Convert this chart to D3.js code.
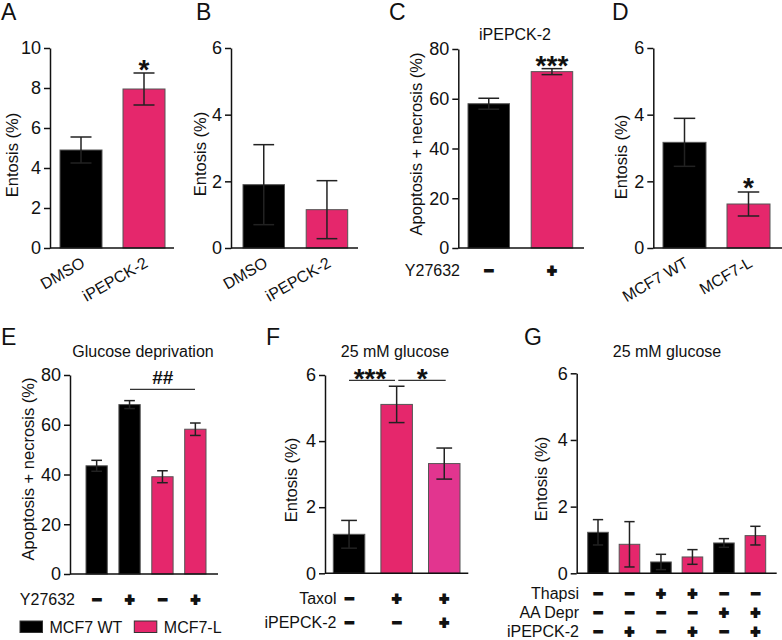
<!DOCTYPE html>
<html><head><meta charset="utf-8">
<script src="https://cdn.jsdelivr.net/npm/d3@7"></script>
<style>body{margin:0;background:#fff} text{font-family:"Liberation Sans",Arial,sans-serif;fill:#111}</style>
</head><body><svg id="c" width="782" height="640"></svg>
<script>
// ---------- DATA ----------
const aCategories = ["DMSO", "iPEPCK-2"];
const aValues = [4.9, 7.95];
const aErrors = [0.65, 0.8];
const aTicks = [0, 2, 4, 6, 8, 10];

const bCategories = ["DMSO", "iPEPCK-2"];
const bValues = [1.9, 1.15];
const bErrors = [1.2, 0.87];
const bTicks = [0, 2, 4, 6];

const cCategories = ["ctrl", "Y27632"];
const cValues = [58.0, 70.9];
const cErrors = [2.2, 1.2];
const cTicks = [0, 20, 40, 60, 80];
const cY27632 = ["−", "+"];

const dCategories = ["MCF7 WT", "MCF7-L"];
const dValues = [3.17, 1.32];
const dErrors = [0.72, 0.36];
const dTicks = [0, 2, 4, 6];

const eCategories = ["WT-", "WT+", "L-", "L+"];
const eValues = [43.5, 68.1, 39.1, 58.2];
const eErrors = [2.2, 1.6, 2.4, 2.5];
const eTicks = [0, 20, 40, 60, 80];
const eY27632 = ["−", "+", "−", "+"];
const eLegend = ["MCF7 WT", "MCF7-L"];

const fCategories = ["ctrl", "Taxol", "Taxol+iPEPCK-2"];
const fValues = [1.18, 5.11, 3.32];
const fErrors = [0.42, 0.55, 0.47];
const fTicks = [0, 2, 4, 6];
const fTaxol = ["−", "+", "+"];
const fIPEPCK = ["−", "−", "+"];

const gCategories = ["g1", "g2", "g3", "g4", "g5", "g6"];
const gValues = [1.23, 0.87, 0.34, 0.49, 0.91, 1.13];
const gErrors = [0.38, 0.68, 0.23, 0.22, 0.13, 0.28];
const gTicks = [0, 2, 4, 6];
const gThapsi = ["−", "−", "+", "+", "−", "−"];
const gAADepr = ["−", "−", "−", "−", "+", "+"];
const gIPEPCK = ["−", "+", "−", "+", "−", "+"];

// ---------- STYLE ----------
const BLACK = "#000", PINK = "#e5276c", MAGENTA = "#e2358f";
const svg = d3.select("#c");

function panel(cfg) {
  const g = svg.append("g");
  const y = d3.scaleLinear().domain([0, cfg.max]).range([cfg.y0, cfg.yTop]);
  const n = cfg.cats.length;
  const gap = n > 1 ? (cfg.R - cfg.L - n * cfg.w) / (n - 1) : 0;
  const x = d3.scaleBand().domain(cfg.cats).range([cfg.L, cfg.R])
    .paddingInner(gap / (cfg.w + gap)).paddingOuter(0);
  const bw = x.bandwidth();
  const data = cfg.cats.map((c, i) => ({ c, v: cfg.vals[i], e: cfg.errs[i], col: cfg.colors[i] }));
  // bars
  g.selectAll(".bar").data(data).join("rect")
    .attr("x", d => x(d.c)).attr("width", bw)
    .attr("y", d => y(d.v)).attr("height", d => y(0) - y(d.v))
    .attr("fill", d => d.col).attr("stroke", "#555").attr("stroke-width", 1);
  // error bars
  const cw = bw * 0.5;
  const eg = g.selectAll(".err").data(data).join("g").attr("stroke", "#222").attr("stroke-width", 1.5);
  eg.append("line").attr("x1", d => x(d.c) + bw / 2).attr("x2", d => x(d.c) + bw / 2)
    .attr("y1", d => y(d.v + d.e)).attr("y2", d => y(d.v - d.e));
  eg.append("line").attr("x1", d => x(d.c) + bw / 2 - cw / 2).attr("x2", d => x(d.c) + bw / 2 + cw / 2)
    .attr("y1", d => y(d.v + d.e)).attr("y2", d => y(d.v + d.e));
  eg.append("line").attr("x1", d => x(d.c) + bw / 2 - cw / 2).attr("x2", d => x(d.c) + bw / 2 + cw / 2)
    .attr("y1", d => y(d.v - d.e)).attr("y2", d => y(d.v - d.e));
  // y axis
  const ax = g.append("g").attr("transform", `translate(${cfg.axX},0)`)
    .call(d3.axisLeft(y).tickValues(cfg.ticks).tickFormat(d3.format("d"))
      .tickSize(6).tickSizeOuter(0).tickPadding(3));
  ax.selectAll("path,line").attr("stroke", "#111").attr("stroke-width", 1.5);
  ax.selectAll("text").attr("font-size", 18).attr("font-family", "Liberation Sans, Arial, sans-serif").attr("fill", "#111");
  // x axis baseline
  g.append("line").attr("x1", cfg.axX).attr("x2", cfg.xEnd).attr("y1", y(0)).attr("y2", y(0))
    .attr("stroke", "#111").attr("stroke-width", 1.5);
  // y label
  g.append("text").attr("transform", `translate(${cfg.ylX},${cfg.ylY}) rotate(-90)`)
    .attr("text-anchor", "middle").attr("font-size", 16.5).text(cfg.ylab);
  // panel letter
  g.append("text").attr("x", cfg.letX).attr("y", cfg.letY).attr("font-size", 23).text(cfg.letter);
  if (cfg.title) g.append("text").attr("x", cfg.title[1]).attr("y", cfg.title[2])
    .attr("text-anchor", "middle").attr("font-size", 16).text(cfg.title[0]);
  // rotated x labels
  if (cfg.xlabels) g.selectAll(".xl").data(data).join("text")
    .attr("transform", d => `translate(${x(d.c) + bw / 2 + 5},${y(0) + 18}) rotate(-30)`)
    .attr("text-anchor", "end").attr("font-size", 16).text((d, i) => cfg.xlabels[i]);
  // sign rows
  if (cfg.rows) cfg.rows.forEach(r => {
    g.append("text").attr("x", cfg.rowX).attr("y", r.cy + 5.5).attr("text-anchor", "end")
      .attr("font-size", 16).text(r.label);
    g.selectAll(null).data(r.signs).join("text")
      .attr("x", (s, i) => x(cfg.cats[i]) + bw / 2).attr("y", r.cy + 5.5)
      .attr("text-anchor", "middle").attr("font-size", 16).attr("font-weight", "bold")
      .attr("stroke", "#111").attr("stroke-width", 1.8).text(s => s);
  });
  // significance
  if (cfg.sig) cfg.sig.forEach(s => {
    const cx = s.cx !== undefined ? s.cx : x(s.over) + bw / 2;
    const fs = s.fs || 28;
    g.append("text").attr("x", cx).attr("y", s.top + 0.716 * fs).attr("text-anchor", "middle")
      .attr("font-size", fs).attr("font-weight", "bold").text(s.t);
    if (s.line) g.append("line").attr("x1", s.line[0]).attr("x2", s.line[1])
      .attr("y1", s.line[2]).attr("y2", s.line[2]).attr("stroke", "#333").attr("stroke-width", 1.2);
  });
  return { x, y, g };
}

panel({ letter: "A", letX: 1, letY: 20, cats: aCategories, vals: aValues, errs: aErrors, ticks: aTicks,
  max: 10, y0: 248, yTop: 48, axX: 50, xEnd: 174, L: 60, R: 165, w: 42, colors: [BLACK, PINK],
  ylab: "Entosis (%)", ylX: 17.5, ylY: 155, xlabels: aCategories,
  sig: [{ t: "*", over: "iPEPCK-2", top: 59.3 }] });

panel({ letter: "B", letX: 196, letY: 20, cats: bCategories, vals: bValues, errs: bErrors, ticks: bTicks,
  max: 6, y0: 248, yTop: 48, axX: 231, xEnd: 358, L: 243, R: 347.7, w: 41.5, colors: [BLACK, PINK],
  ylab: "Entosis (%)", ylX: 205.5, ylY: 154, xlabels: bCategories });

panel({ letter: "C", letX: 389, letY: 20, cats: cCategories, vals: cValues, errs: cErrors, ticks: cTicks,
  max: 80, y0: 248, yTop: 49, axX: 458.3, xEnd: 584, L: 468, R: 572.7, w: 41.5, colors: [BLACK, PINK],
  ylab: "Apoptosis + necrosis (%)", ylX: 421.5, ylY: 144, title: ["iPEPCK-2", 515, 40],
  rowX: 460, rows: [{ label: "Y27632", signs: cY27632, cy: 270 }],
  sig: [{ t: "***", over: "Y27632", top: 55 }] });

panel({ letter: "D", letX: 612, letY: 20, cats: dCategories, vals: dValues, errs: dErrors, ticks: dTicks,
  max: 6, y0: 248, yTop: 48, axX: 653.3, xEnd: 782, L: 663, R: 770, w: 43, colors: [BLACK, PINK],
  ylab: "Entosis (%)", ylX: 626.5, ylY: 157, xlabels: dCategories,
  sig: [{ t: "*", over: "MCF7-L", top: 176.7 }] });

panel({ letter: "E", letX: 1, letY: 345, cats: eCategories, vals: eValues, errs: eErrors, ticks: eTicks,
  max: 80, y0: 574, yTop: 375, axX: 70, xEnd: 218, L: 86, R: 206, w: 21.3, colors: [BLACK, BLACK, PINK, PINK],
  ylab: "Apoptosis + necrosis (%)", ylX: 34, ylY: 469, title: ["Glucose deprivation", 143, 357],
  rowX: 75, rows: [{ label: "Y27632", signs: eY27632, cy: 599 }],
  sig: [{ t: "##", cx: 162.7, top: 370.5, fs: 19, line: [130, 195, 389.3] }] });

panel({ letter: "F", letX: 266, letY: 345, cats: fCategories, vals: fValues, errs: fErrors, ticks: fTicks,
  max: 6, y0: 573.3, yTop: 375, axX: 325, xEnd: 468.3, L: 333.3, R: 460, w: 31.5, colors: [BLACK, PINK, MAGENTA],
  ylab: "Entosis (%)", ylX: 297, ylY: 480, title: ["25 mM glucose", 395, 357],
  rowX: 336.5, rows: [{ label: "Taxol", signs: fTaxol, cy: 598.5 }, { label: "iPEPCK-2", signs: fIPEPCK, cy: 622 }],
  sig: [{ t: "***", cx: 370, top: 368.3, line: [349, 395, 380.3] },
        { t: "*", cx: 422.3, top: 368.3, line: [398.3, 445.7, 380.3] }] });

panel({ letter: "G", letX: 524, letY: 345, cats: gCategories, vals: gValues, errs: gErrors, ticks: gTicks,
  max: 6, y0: 573.3, yTop: 373.3, axX: 576.7, xEnd: 776.7, L: 587.7, R: 765.7, w: 20.6,
  colors: [BLACK, PINK, BLACK, PINK, BLACK, PINK],
  ylab: "Entosis (%)", ylX: 547, ylY: 479, title: ["25 mM glucose", 667, 357],
  rowX: 579, rows: [{ label: "Thapsi", signs: gThapsi, cy: 593.3 }, { label: "AA Depr", signs: gAADepr, cy: 612.3 },
                    { label: "iPEPCK-2", signs: gIPEPCK, cy: 631.3 }] });

// legend for E
const leg = svg.append("g");
const legX = [20, 134.3];
leg.selectAll("rect").data(eLegend).join("rect")
  .attr("x", (d, i) => legX[i]).attr("y", 621).attr("width", 22.5).attr("height", 11.5)
  .attr("fill", (d, i) => i ? PINK : BLACK).attr("stroke", "#333").attr("stroke-width", 1);
leg.selectAll("text").data(eLegend).join("text")
  .attr("x", (d, i) => legX[i] + 29.5).attr("y", 633).attr("font-size", 16).text(d => d);
</script></body></html>
